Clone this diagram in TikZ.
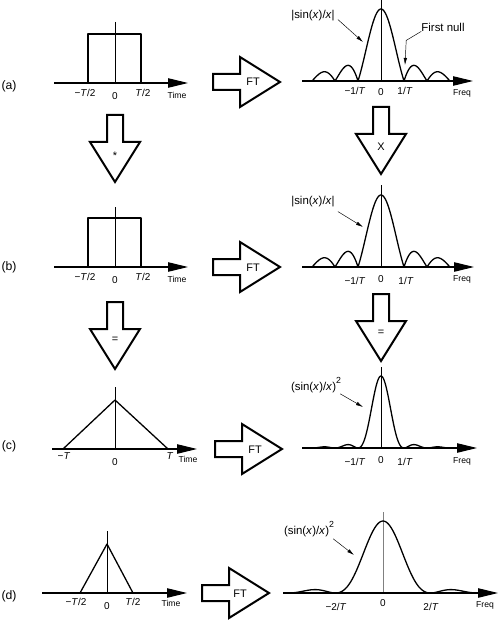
\documentclass[tikz,border=0pt]{standalone}
\usepackage{fontspec}
\setmainfont{Liberation Sans}
\usetikzlibrary{arrows.meta}
\begin{document}
\begin{tikzpicture}[x=0.85pt,y=-0.85pt]

    \tikzset{
      axis/.style={line width=0.9pt, -{Triangle[length=17pt,width=8pt]}},
      curve/.style={line width=1.1pt, line join=round},
      midline/.style={line width=0.4pt},
      fatline/.style={line width=1.7pt, line join=miter, fill=white},
      pointer/.style={line width=0.4pt, -{Latex[length=6pt,width=3pt]}},
      tick/.style={font=\fontsize{8.5}{10}\selectfont, inner sep=0pt},
      axislbl/.style={font=\fontsize{7.3}{8}\selectfont, inner sep=0pt},
      note/.style={font=\fontsize{9.7}{11}\selectfont, inner sep=0pt},
      panel/.style={font=\fontsize{10.4}{12}\selectfont, inner sep=0pt},
      oplbl/.style={font=\fontsize{9.3}{11}\selectfont, inner sep=0pt},
      fatarrow/.pic={
        \draw[fatline] (0,-8) -- (27,-8) -- (27,-25) -- (67,0) -- (27,25) -- (27,8) -- (0,8) -- cycle;
      },
    }
    \useasboundingbox (0,0) rectangle (500,621);

    % panel labels
    \node[panel] (pa) at (9,86) {(a)};
    \node[panel] (pb) at (9,267) {(b)};
    \node[panel] (pc) at (9,446) {(c)};
    \node[panel] (pd) at (9,596) {(d)};

    % (a) time: rectangle
    \draw[midline] (115,22) -- (115,83);
    \draw[curve] (88,83) -- (88,34) -- (141,34) -- (141,83);
    \draw[axis] (54,83) -- (188,83);
    \node[tick] (ta1) at (85,93) {−\textit{T}/2};
    \node[tick] (ta2) at (115,96) {0};
    \node[tick] (ta3) at (143,93) {\textit{T}/2};
    \node[axislbl] (ta4) at (177,95) {Time};

    % (a) freq: |sinc|
    \draw[midline] (381,0) -- (381,81);
    \draw[curve] plot[domain=-3:3, samples=300] ({381+23*\x}, {81-72*abs(sin(180*\x)/(pi*\x))});
    \draw[axis] (302,81) -- (473,81);
    \node[tick] (fa1) at (355,91) {−1/\textit{T}};
    \node[tick] (fa2) at (381,92) {0};
    \node[tick] (fa3) at (405,91) {1/\textit{T}};
    \node[axislbl] (fa4) at (462,93) {Freq};
    \node[note] (sincA) at (313,16) {|sin(\textit{x})/\textit{x}|};
    \coordinate (ptA) at (363,42);
    \draw[pointer] (sincA.south east) ++(3,-2) -- (ptA);
    \node[note] (nullA) at (443,27) {First null};
    \coordinate (ptNull) at (405,65);
    \draw[pointer] (nullA.south west) -- ++(-15,9) -- (ptNull);

    % (b) time: rectangle
    \draw[midline] (115,207) -- (115,267);
    \draw[curve] (88,267) -- (88,218) -- (141,218) -- (141,267);
    \draw[axis] (54,267) -- (188,267);
    \node[tick] (tb1) at (85,277) {−\textit{T}/2};
    \node[tick] (tb2) at (115,280) {0};
    \node[tick] (tb3) at (143,277) {\textit{T}/2};
    \node[axislbl] (tb4) at (177,279) {Time};

    % (b) freq: |sinc|
    \draw[midline] (381,185) -- (381,267);
    \draw[curve] plot[domain=-3:3, samples=300] ({381+23*\x}, {267-72*abs(sin(180*\x)/(pi*\x))});
    \draw[axis] (302,267) -- (474,267);
    \node[tick] (fb1) at (355,281) {−1/\textit{T}};
    \node[tick] (fb2) at (381,279) {0};
    \node[tick] (fb3) at (406,281) {1/\textit{T}};
    \node[axislbl] (fb4) at (462,279) {Freq};
    \node[note] (sincB) at (313,202) {|sin(\textit{x})/\textit{x}|};
    \coordinate (ptB) at (363,227);
    \draw[pointer] (sincB.south east) ++(3,4) -- (ptB);

    % (c) time: triangle
    \draw[midline] (115,387) -- (115,449);
    \draw[curve] (63,449) -- (115,400) -- (168,449);
    \draw[axis] (52,449) -- (197,449);
    \node[tick] (tc1) at (64,456) {−\textit{T}};
    \node[tick] (tc2) at (115,462) {0};
    \node[tick] (tc3) at (170,456) {\textit{T}};
    \node[axislbl] (tc4) at (188,459) {Time};

    % (c) freq: sinc^2
    \draw[midline] (381,367) -- (381,448);
    \draw[curve] plot[domain=-3:3, samples=300] ({381+23*\x}, {448-72*(sin(180*\x)/(pi*\x))^2});
    \draw[axis] (302,448) -- (477,448);
    \node[tick] (fc1) at (355,462) {−1/\textit{T}};
    \node[tick] (fc2) at (381,460) {0};
    \node[tick] (fc3) at (405,462) {1/\textit{T}};
    \node[axislbl] (fc4) at (462,461) {Freq};
    \node[note] (sqC) at (316,385) {(sin(\textit{x})/\textit{x})\raisebox{1.1ex}{\fontsize{7.5}{8}\selectfont 2}};
    \coordinate (ptC) at (363,407);
    \draw[pointer] (sqC.south east) ++(-1,1) -- (ptC);

    % (d) time: narrow triangle
    \draw[midline] (107,531) -- (107,593);
    \draw[curve] (80,593) -- (107,544) -- (133,593);
    \draw[axis] (42,593) -- (187,593);
    \node[tick] (td1) at (76,602) {−\textit{T}/2};
    \node[tick] (td2) at (107,606) {0};
    \node[tick] (td3) at (133,602) {\textit{T}/2};
    \node[axislbl] (td4) at (171,603) {Time};

    % (d) freq: wide sinc^2
    \draw[midline, gray] (383,512) -- (383,593);
    \draw[curve] plot[domain=-2:2, samples=200] ({383+47.5*\x}, {593-72*(sin(180*\x)/(pi*\x))^2});
    \draw[axis] (283,593) -- (498,593);
    \node[tick] (fd1) at (336,607) {−2/\textit{T}};
    \node[tick] (fd2) at (383,603) {0};
    \node[tick] (fd3) at (431,607) {2/\textit{T}};
    \node[axislbl] (fd4) at (485,605) {Freq};
    \node[note] (sqD) at (309,529) {(sin(\textit{x})/\textit{x})\raisebox{1.1ex}{\fontsize{7.5}{8}\selectfont 2}};
    \coordinate (ptD) at (354,555);
    \draw[pointer] (sqD.south east) ++(-1,2) -- (ptD);

    % fat arrows
    \pic at (213,82) {fatarrow};
    \node[oplbl] (ftA) at (253,82) {FT};
    \pic at (213,267) {fatarrow};
    \node[oplbl] (ftB) at (253,268) {FT};
    \pic at (215,449) {fatarrow};
    \node[oplbl] (ftC) at (255,450) {FT};
    \pic at (202,593) {fatarrow};
    \node[oplbl] (ftD) at (240,594) {FT};
    \pic[rotate=-90] at (115,115) {fatarrow};
    \node[oplbl] (conv) at (115,156) {*};
    \pic[rotate=-90] at (381,107) {fatarrow};
    \node[oplbl] (mult) at (381,147) {X};
    \pic[rotate=-90] at (115,302) {fatarrow};
    \node[oplbl] (eqL) at (115,340) {=};
    \pic[rotate=-90] at (381,294) {fatarrow};
    \node[oplbl] (eqR) at (381,333) {=};

\end{tikzpicture}
\end{document}
